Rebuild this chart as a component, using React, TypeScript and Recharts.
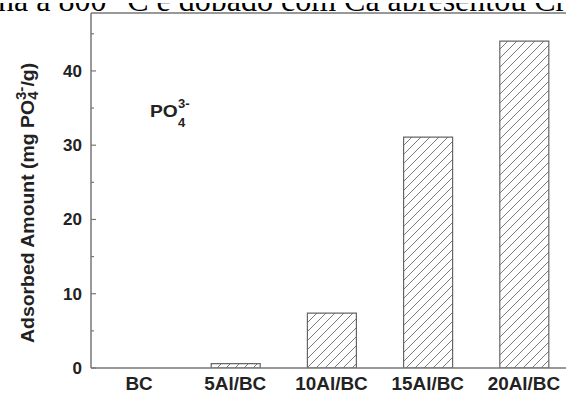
import React from 'react';
import { BarChart, Bar, XAxis, YAxis, ReferenceLine, Customized } from 'recharts';

const categories = ['BC', '5Al/BC', '10Al/BC', '15Al/BC', '20Al/BC'];
const adsorbed = [0, 0.6, 7.4, 31.1, 44.0];
const yTicks = [0, 5, 10, 15, 20, 25, 30, 35, 40, 45];
const majorTicks = [0, 10, 20, 30, 40];
const yMax = 47.8;
const captionText = 'na a 800 °C e dopado com Ca apresentou Cr';

const data = categories.map((c, i) => ({ name: c, value: adsorbed[i] }));

const SANS = 'Liberation Sans, Arial, Helvetica, sans-serif';
const AXIS = '#777';
const TXT = '#222';

const YTick = (props: any) => {
  const { x, y, payload } = props;
  const major = majorTicks.includes(payload.value);
  return (
    <g>
      <line x1={x} x2={x + (major ? 5 : 3)} y1={y} y2={y} stroke={AXIS} strokeWidth={1.2} />
      {major && (
        <text x={x - 9} y={y + 6} textAnchor="end" fontFamily={SANS} fontWeight="bold" fontSize={17} fill={TXT}>
          {payload.value}
        </text>
      )}
    </g>
  );
};

const XTick = (props: any) => {
  const { x, y, payload } = props;
  return (
    <g transform={`translate(${x},${y + 22}) scale(1.08,1)`}>
      <text x={0} y={0} textAnchor="middle" fontFamily={SANS} fontWeight="bold" fontSize={17.5} fill={TXT}>
        {payload.value}
      </text>
    </g>
  );
};

const YLabel = () => (
  <g transform="translate(34,343) rotate(-90) scale(1.08,1)">
    <text x={0} y={0} fontFamily={SANS} fontWeight="bold" fontSize={18} fill={TXT}>
      <tspan>Adsorbed Amount (mg PO</tspan>
      <tspan fontSize={14} dy={4}>4</tspan>
      <tspan fontSize={14} dx={-8} dy={-12}>3-</tspan>
      <tspan dy={8}>/g)</tspan>
    </text>
  </g>
);

const Annotation = () => (
  <g>
    <g transform="translate(150,117) scale(1.2,1)">
      <text x={0} y={0} fontFamily={SANS} fontWeight="bold" fontSize={16} fill={TXT}>PO</text>
    </g>
    <text x={178} y={108} fontFamily={SANS} fontWeight="bold" fontSize={13} fill={TXT}>3-</text>
    <text x={178} y={127} fontFamily={SANS} fontWeight="bold" fontSize={13} fill={TXT}>4</text>
  </g>
);

export default function App() {
  return (
    <div style={{ position: 'absolute', left: 0, top: 0, width: 566, height: 393, overflow: 'hidden', background: '#fff' }}>
      <div style={{ position: 'absolute', left: 0, top: 0, width: 566, height: 11, overflow: 'hidden' }}>
        <svg width={566} height={11}>
          <text x={-2} y={8} fontFamily="Liberation Serif, Times New Roman, serif" fontSize={32} fill="#000">
            {captionText}
          </text>
        </svg>
      </div>
      <div style={{ position: 'absolute', left: 0, top: 0 }}>
        <BarChart width={572} height={393} data={data} margin={{ top: 13, right: 0, bottom: 0, left: 0 }}>
          <defs>
            <pattern id="hatch" patternUnits="userSpaceOnUse" width={9} height={9}>
              <path d="M-1,1 L1,-1 M0,9 L9,0 M8,10 L10,8" stroke="#7a7a7a" strokeWidth={1} />
            </pattern>
          </defs>
          <XAxis
            dataKey="name"
            height={25}
            tickLine={false}
            tickSize={0}
            tickMargin={0}
            axisLine={{ stroke: AXIS, strokeWidth: 1.5 }}
            tick={<XTick />}
            interval={0}
          />
          <YAxis
            width={91}
            domain={[0, yMax]}
            ticks={yTicks}
            tickLine={false}
            tickSize={0}
            tickMargin={0}
            axisLine={{ stroke: AXIS, strokeWidth: 1.5 }}
            tick={<YTick />}
            allowDataOverflow
          />
          <ReferenceLine y={yMax} stroke={AXIS} strokeWidth={1.5} />
          <Bar dataKey="value" barSize={49} fill="url(#hatch)" stroke="#666" strokeWidth={1.2} isAnimationActive={false} />
          <Customized component={<YLabel />} />
          <Customized component={<Annotation />} />
        </BarChart>
      </div>
    </div>
  );
}
